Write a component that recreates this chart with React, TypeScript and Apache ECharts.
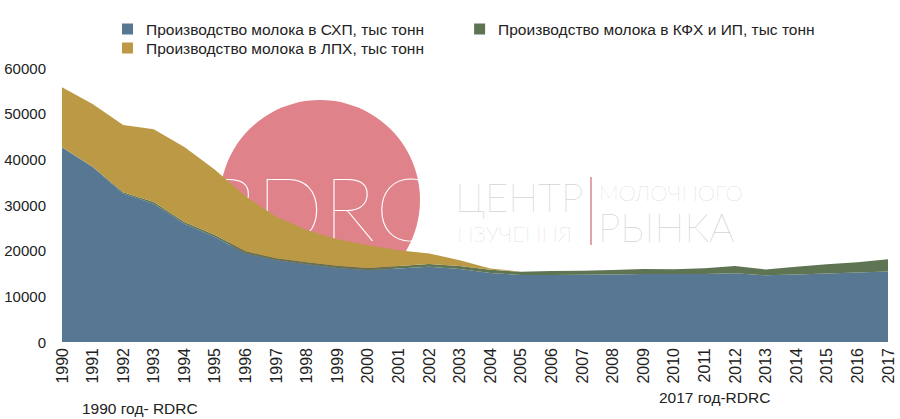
import React, { useEffect, useRef } from "react";
import * as echarts from "echarts";

const years = [
  "1990","1991","1992","1993","1994","1995","1996","1997","1998","1999",
  "2000","2001","2002","2003","2004","2005","2006","2007","2008","2009",
  "2010","2011","2012","2013","2014","2015","2016","2017",
];
// Производство молока в СХП
const skhp = [
  42600, 38300, 32500, 30300, 25900, 23000, 19400, 17900, 17000, 16200,
  15700, 16100, 16500, 16000, 15100, 14650, 14650, 14700, 14800, 14900,
  14900, 14900, 15050, 14600, 14800, 15000, 15200, 15450,
];
// Производство молока в КФХ и ИП
const kfh = [
  100, 150, 300, 350, 400, 450, 450, 450, 450, 500,
  500, 550, 600, 650, 700, 750, 900, 900, 950, 1100,
  1050, 1250, 1600, 1300, 1700, 2000, 2250, 2650,
];
// Производство молока в ЛПХ
const lph = [
  13100, 13650, 14700, 15950, 16400, 14250, 12050, 9050, 7050, 5800,
  5000, 3450, 2300, 1250, 300, 0, 0, 0, 0, 0,
  0, 0, 0, 0, 0, 0, 0, 0,
];
const yTicks = { min: 0, max: 60000, interval: 10000 };

const NAME_SKHP = "Производство молока в СХП, тыс тонн";
const NAME_KFH = "Производство молока в КФХ и ИП, тыс тонн";
const NAME_LPH = "Производство молока в ЛПХ, тыс тонн";

const C_BLUE = "#587792";
const C_GOLD = "#bc9944";
const C_GREEN = "#5f7452";
const C_PINK = "#e0828a";
const FONT = "'Liberation Sans', Arial, sans-serif";
const THIN = "Lato, 'Open Sans', sans-serif";

export default function App() {
  const ref = useRef<HTMLDivElement>(null);
  useEffect(() => {
    if (!ref.current) return;
    const chart = echarts.init(ref.current, null, { renderer: "svg" });
    const legendText = {
      color: "#222",
      fontSize: 15.5,
      fontFamily: FONT,
      padding: [0, 0, 0, 8],
    };
    const area = (name: string, data: number[], color: string) => ({
      name,
      type: "line",
      stack: "total",
      data,
      showSymbol: false,
      symbol: "none",
      lineStyle: { width: 0 },
      itemStyle: { color },
      areaStyle: { color, opacity: 1 },
      z: 5,
    });
    const wm = (text: string, x: number, y: number, size: number) => ({
      type: "text",
      z: 1,
      x,
      y,
      style: {
        text,
        fill: "#c4c4c4",
        fontSize: size,
        lineHeight: Math.round(size * 0.78),
        fontWeight: 100,
        fontFamily: THIN,
        align: "left",
        verticalAlign: "middle",
      },
    });
    chart.setOption({
      animation: false,
      backgroundColor: "#fff",
      legend: [
        {
          data: [NAME_SKHP, NAME_KFH],
          left: 122,
          top: 21,
          padding: 0,
          itemWidth: 11,
          itemHeight: 11,
          itemGap: 50,
          icon: "rect",
          textStyle: legendText,
          selectedMode: false,
        },
        {
          data: [NAME_LPH],
          left: 122,
          top: 40,
          padding: 0,
          itemWidth: 11,
          itemHeight: 11,
          icon: "rect",
          textStyle: legendText,
          selectedMode: false,
        },
      ],
      grid: { left: 62, right: 12, top: 68, bottom: 77, containLabel: false },
      xAxis: {
        type: "category",
        data: years,
        boundaryGap: false,
        axisLine: { show: false },
        axisTick: { show: false },
        axisLabel: {
          rotate: 90,
          color: "#222",
          fontSize: 16,
          fontFamily: FONT,
          interval: 0,
          margin: 6,
        },
      },
      yAxis: {
        type: "value",
        min: yTicks.min,
        max: yTicks.max,
        interval: yTicks.interval,
        axisLine: { show: false },
        axisTick: { show: false },
        splitLine: { show: false },
        axisLabel: {
          color: "#222",
          fontSize: 15,
          fontFamily: FONT,
          margin: 16,
          formatter: (v: number) => String(v),
        },
      },
      graphic: [
        {
          type: "circle",
          z: 0,
          shape: { cx: 320, cy: 200, r: 100 },
          style: { fill: C_PINK },
        },
        {
          type: "text",
          z: 1,
          x: 320,
          y: 207,
          style: {
            text: "RDRC",
            fill: "#fff",
            fontSize: 88,
            lineHeight: 66,
            fontWeight: 100,
            fontFamily: THIN,
            align: "center",
            verticalAlign: "middle",
          },
        },
        wm("ЦЕНТР", 455, 197, 40),
        wm("ИЗУЧЕНИЯ", 457, 233, 22),
        {
          type: "line",
          z: 1,
          shape: { x1: 591, y1: 177, x2: 591, y2: 245 },
          style: { stroke: "#d9868c", lineWidth: 1.5 },
        },
        wm("МОЛОЧНОГО", 599, 192, 22),
        wm("РЫНКА", 598, 227, 40),
        {
          type: "text",
          z: 10,
          x: 82,
          y: 408,
          style: {
            text: "1990 год- RDRC",
            fill: "#222",
            fontSize: 15.5,
            fontFamily: FONT,
            align: "left",
            verticalAlign: "middle",
          },
        },
        {
          type: "text",
          z: 10,
          x: 659,
          y: 397,
          style: {
            text: "2017 год-RDRC",
            fill: "#222",
            fontSize: 15.5,
            fontFamily: FONT,
            align: "left",
            verticalAlign: "middle",
          },
        },
      ],
      series: [
        area(NAME_SKHP, skhp, C_BLUE),
        area(NAME_KFH, kfh, C_GREEN),
        area(NAME_LPH, lph, C_GOLD),
      ],
    });
    return () => chart.dispose();
  }, []);
  return <div ref={ref} style={{ width: 900, height: 419, position: "absolute", left: 0, top: 0 }} />;
}
